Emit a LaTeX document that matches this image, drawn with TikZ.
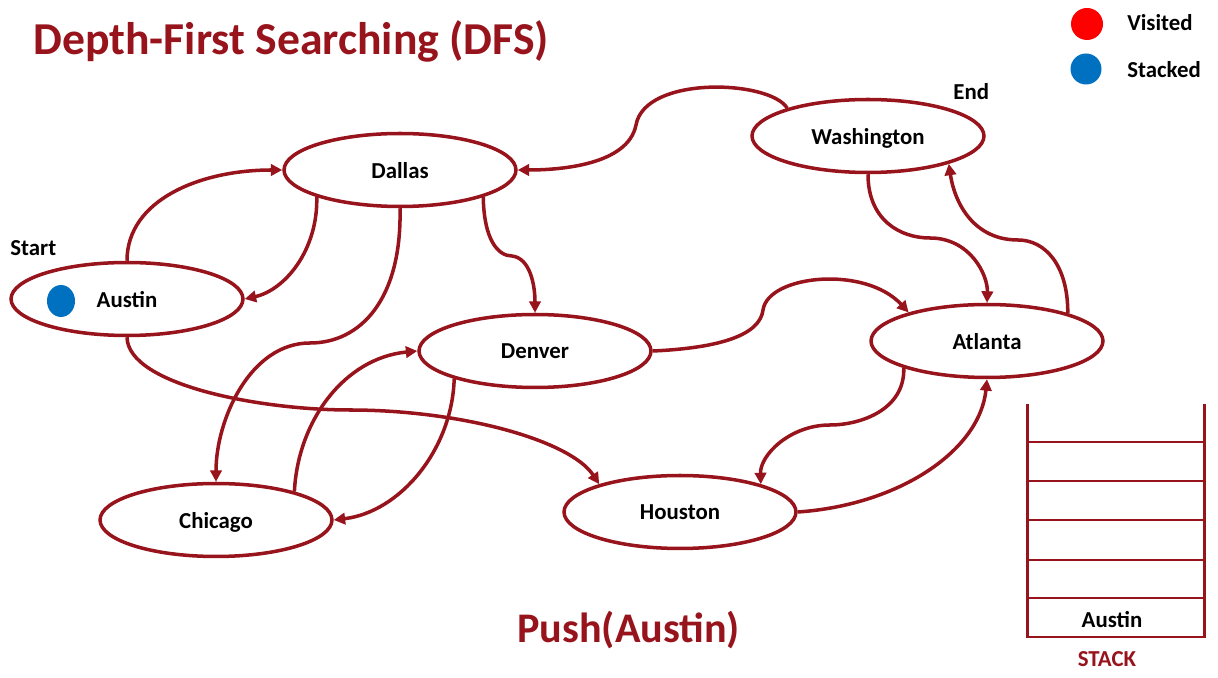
\documentclass[tikz,border=0pt]{standalone}
\usepackage{fontspec}
\setmainfont{Carlito}
\usetikzlibrary{shapes.geometric,arrows.meta}
\definecolor{dred}{RGB}{152,20,28}
\definecolor{legblue}{RGB}{0,112,192}
\begin{document}
\begin{tikzpicture}[x=0.02cm,y=-0.02cm,
 city/.style={ellipse,draw=dred,line width=2pt,minimum width=4.64cm,minimum height=1.46cm,inner sep=0pt,text depth=0pt,font=\fontsize{13}{15}\selectfont\bfseries},
 edge/.style={draw=dred,line width=2pt,-{Triangle[length=6.5pt,width=6.5pt]}},
 lbl/.style={font=\fontsize{13}{15}\selectfont\bfseries,inner sep=0pt},
 stackline/.style={draw=dred,line width=1.7pt}]
\useasboundingbox (0,0) rectangle (1218,678);
% title
\node[font=\fontsize{26}{30}\selectfont\bfseries,text=dred,anchor=base west,inner sep=0pt] (title) at (33,55) {Depth-First Searching (DFS)};
% legend
\node[circle,fill=red,minimum size=0.64cm,inner sep=0pt] (vdot) at (1087,24) {};
\node[circle,fill=legblue,minimum size=0.62cm,inner sep=0pt] (sdot) at (1086,69) {};
\node[lbl,anchor=base west] (vtext) at (1127,31) {Visited};
\node[lbl,anchor=base west] (stext) at (1127,78) {Stacked};
% cities
\node[city] (Dallas) at (400,170) {Dallas};
\node[city] (Austin) at (127,299) {Austin};
\node[city] (Denver) at (535,351) {Denver};
\node[city] (Washington) at (868,136) {Washington};
\node[city] (Atlanta) at (987,341) {Atlanta};
\node[city] (Chicago) at (216,520) {Chicago};
\node[city] (Houston) at (680,512) {Houston};
\node[ellipse,fill=legblue,minimum width=0.56cm,minimum height=0.64cm,inner sep=0pt] (adot) at (61,301) {};
\node[lbl,anchor=base west] (start) at (10,256) {Start};
\node[lbl,anchor=base west] (end) at (953,100) {End};
% edges
\draw[edge] (Austin.north) .. controls (127,200) and (200,170) .. (Dallas.west);
\draw[edge] (Dallas.198) .. controls (318,250) and (285,290) .. (Austin.east);
\draw[edge] (Dallas.south) .. controls (402,300) and (360,343) .. (310,343) .. controls (250,343) and (216,420) .. (Chicago.north);
\draw[edge] (Dallas.342) .. controls (484,240) and (498,256) .. (512,256) .. controls (530,258) and (535,285) .. (Denver.north);
\draw[edge] (Washington.161) .. controls (770,80) and (645,75) .. (636,125) .. controls (628,165) and (560,170) .. (Dallas.east);
\draw[edge] (Washington.south) .. controls (868,220) and (900,238) .. (930,238) .. controls (970,238) and (988,275) .. (Atlanta.north);
\draw[edge] (Atlanta.19) .. controls (1068,265) and (1045,240) .. (1018,240) .. controls (975,240) and (955,205) .. (Washington.341);
\draw[edge] (Denver.east) .. controls (720,348) and (760,335) .. (763,310) .. controls (768,275) and (865,265) .. (Atlanta.160);
\draw[edge] (Austin.south) .. controls (128,385) and (260,410) .. (350,410) .. controls (460,410) and (570,440) .. (Houston.161);
\draw[edge] (Chicago.20) .. controls (298,420) and (345,358) .. (Denver.west);
\draw[edge] (Denver.199) .. controls (452,450) and (400,512) .. (Chicago.east);
\draw[edge] (Atlanta.198) .. controls (905,410) and (860,425) .. (830,425) .. controls (790,425) and (760,455) .. (Houston.19);
\draw[edge] (Houston.east) .. controls (900,505) and (980,450) .. (Atlanta.south);
% push label
\node[font=\fontsize{24}{28}\selectfont\bfseries,text=dred,anchor=base west,inner sep=0pt] (push) at (517,643) {Push(Austin)};
% stack
\draw[stackline] (1027,404) -- (1027,637) -- (1204,637) -- (1204,404);
\foreach \yy in {442,481,520,560,598} \draw[stackline] (1027,\yy) -- (1204,\yy);
\node[lbl,anchor=base] (stackaustin) at (1112,628) {Austin};
\node[lbl,anchor=base,text=dred] (stacklabel) at (1107,667) {STACK};
\end{tikzpicture}
\end{document}
